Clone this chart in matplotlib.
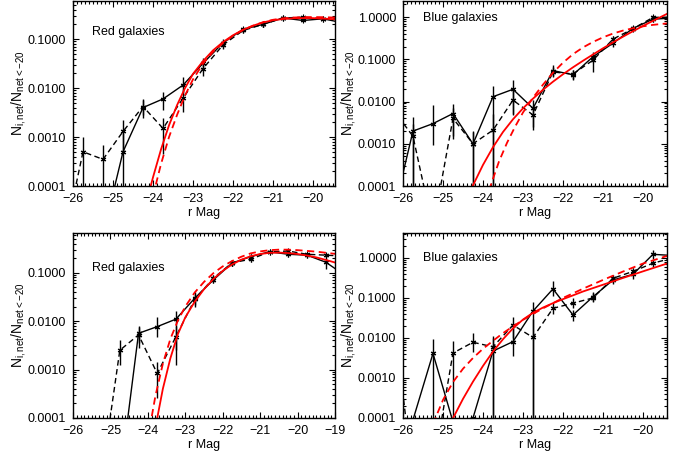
import numpy as np
import matplotlib
matplotlib.use("Agg")
import matplotlib.pyplot as plt
from matplotlib.ticker import FixedLocator, MultipleLocator, LogLocator, NullFormatter, FuncFormatter

plt.rcParams['font.family'] = ['Liberation Sans', 'DejaVu Sans']
plt.rcParams['mathtext.default'] = 'regular'
plt.rcParams['font.size'] = 8

nan = np.nan

# magnitude bins (bin centres)
mag_bins = [-26.25, -25.75, -25.25, -24.75, -24.25, -23.75, -23.25, -22.75,
            -22.25, -21.75, -21.25, -20.75, -20.25, -19.75, -19.25, -18.75]

# --- top left: red galaxies ---
tl_solid = [1e-6, 1e-6, 1e-5, 5e-4, 0.0040, 0.0060, 0.0115, 0.032, 0.084, 0.158, 0.20, 0.27, 0.24, 0.26, 0.215, nan]
tl_solid_lo = [nan, nan, nan, 1e-6, 0.0025, 0.0035, 0.0078, 0.024, 0.07, 0.14, 0.18, 0.25, 0.22, 0.24, nan, nan]
tl_solid_hi = [nan, nan, nan, 0.0012, 0.0057, 0.0084, 0.0166, 0.042, 0.10, 0.18, 0.22, 0.29, 0.26, 0.28, nan, nan]
tl_dash = [6e-6, 5e-4, 3.5e-4, 0.0013, 0.0042, 0.0015, 0.0062, 0.025, 0.076, 0.15, 0.20, 0.27, 0.28, 0.26, 0.26, nan]
tl_dash_lo = [nan, 1e-6, 1e-6, 5e-4, 0.0028, 4.6e-4, 0.0033, 0.018, 0.063, 0.135, 0.18, 0.25, 0.26, 0.24, nan, nan]
tl_dash_hi = [nan, 0.001, 7e-4, 0.0022, 0.006, 0.0024, 0.0095, 0.034, 0.09, 0.17, 0.22, 0.29, 0.30, 0.28, nan, nan]
tl_fit_m = [-24.1, -24.0, -23.8, -23.6, -23.4, -23.2, -23.0, -22.75, -22.5, -22.25, -22.0,
            -21.75, -21.5, -21.25, -21.0, -20.75, -20.5, -20.25, -20.0, -19.75, -19.45]
tl_fit_solid = [7.4e-5, 1.51e-4, 5.6e-4, 1.74e-3, 4.47e-3, 0.010, 0.0195, 0.0355, 0.0589, 0.0871, 0.120,
                0.155, 0.188, 0.219, 0.243, 0.257, 0.266, 0.269, 0.268, 0.263, 0.254]
tl_fitd_m = [-24.0, -23.8, -23.6, -23.4, -23.2, -23.0, -22.75, -22.5, -22.25, -22.0,
             -21.75, -21.5, -21.25, -21.0, -20.75, -20.5, -20.25, -20.0, -19.75, -19.45]
tl_fit_dash = [6.3e-5, 2.82e-4, 1.0e-3, 2.82e-3, 7.08e-3, 0.0151, 0.0316, 0.055, 0.0832, 0.1175,
               0.153, 0.188, 0.221, 0.248, 0.266, 0.275, 0.281, 0.282, 0.280, 0.275]

# --- top right: blue galaxies ---
tr_solid = [2e-5, 0.002, 0.003, 0.0052, 0.00099, 0.013, 0.0195, 0.0069, 0.054, 0.043, 0.115, 0.24, 0.54, 0.89, 0.95, nan]
tr_solid_lo = [nan, 1e-6, 9.3e-4, 0.0013, 1e-6, 1e-6, 0.0048, 0.0021, 0.04, 0.032, 0.085, 0.2, 0.47, 0.78, nan, nan]
tr_solid_hi = [nan, 0.0042, 0.0083, 0.0087, 0.0019, 0.023, 0.032, 0.011, 0.072, 0.056, 0.15, 0.29, 0.62, 1.0, nan, nan]
tr_dash = [0.0065, 0.0015, 1e-5, 0.004, 0.001, 0.0021, 0.0108, 0.0048, 0.05, 0.045, 0.095, 0.30, 0.53, 0.98, 1.0, nan]
tr_dash_lo = [nan, 1e-6, nan, 0.0015, 1e-6, 1e-6, 0.005, 0.0025, 0.038, 0.035, 0.051, 0.25, 0.47, 0.85, nan, nan]
tr_dash_hi = [nan, 0.003, nan, 0.007, 0.002, 0.005, 0.02, 0.008, 0.065, 0.055, 0.126, 0.36, 0.6, 1.1, nan, nan]
tr_fit_m = [-24.3, -24.0, -23.75, -23.5, -23.25, -23.0, -22.75, -22.5, -22.25, -22.0,
            -21.75, -21.5, -21.25, -21.0, -20.75, -20.5, -20.25, -20.0, -19.75, -19.4]
tr_fit_solid = [8.3e-5, 3.16e-4, 8.3e-4, 1.9e-3, 3.8e-3, 6.9e-3, 0.0117, 0.019, 0.0295, 0.0442,
                0.0646, 0.0923, 0.130, 0.182, 0.251, 0.343, 0.462, 0.617, 0.813, 1.19]
tr_fitd_m = [-23.85, -23.6, -23.4, -23.2, -23.0, -22.75, -22.5, -22.25, -22.0, -21.75,
             -21.5, -21.25, -21.0, -20.75, -20.5, -20.25, -20.0, -19.75, -19.4]
tr_fit_dash = [7.9e-5, 3.8e-4, 1.05e-3, 2.51e-3, 5.5e-3, 0.0123, 0.0251, 0.0479, 0.0832, 0.132,
               0.191, 0.257, 0.331, 0.407, 0.479, 0.543, 0.603, 0.653, 0.708]

# --- bottom left: red galaxies ---
bl_solid = [nan, nan, 1e-6, 5e-6, 0.0056, 0.0077, 0.011, 0.0296, 0.071, 0.158, 0.215, 0.27, 0.24, 0.23, 0.165, 0.09]
bl_solid_lo = [nan, nan, nan, nan, 0.0035, 0.0047, 0.00125, 0.022, 0.06, 0.14, 0.19, 0.25, 0.21, 0.2, 0.12, nan]
bl_solid_hi = [nan, nan, nan, nan, 0.0078, 0.0123, 0.016, 0.04, 0.085, 0.18, 0.24, 0.29, 0.27, 0.26, 0.22, nan]
bl_dash = [nan, nan, 5e-6, 0.0025, 0.0052, 0.00083, 0.0048, 0.028, 0.077, 0.16, 0.19, 0.27, 0.28, 0.24, 0.23, 0.22]
bl_dash_lo = [nan, nan, nan, 0.00126, 0.0028, 0.00026, 0.0025, 0.02, 0.065, 0.14, 0.17, 0.25, 0.26, 0.22, 0.21, nan]
bl_dash_hi = [nan, nan, nan, 0.0041, 0.0075, 0.00145, 0.008, 0.037, 0.09, 0.18, 0.21, 0.29, 0.30, 0.26, 0.25, nan]
bl_fit_m = [-23.8, -23.6, -23.4, -23.2, -23.0, -22.75, -22.5, -22.25, -22.0, -21.75, -21.5,
            -21.25, -21.0, -20.75, -20.5, -20.25, -20.0, -19.75, -19.5, -19.25, -19.0]
bl_fit_solid = [6.3e-5, 4.0e-4, 1.7e-3, 5.37e-3, 0.012, 0.0251, 0.0457, 0.0741, 0.1096, 0.148, 0.186,
                0.219, 0.243, 0.257, 0.26, 0.254, 0.243, 0.226, 0.207, 0.184, 0.162]
bl_fitd_m = [-23.95, -23.8, -23.6, -23.4, -23.2, -23.0, -22.75, -22.5, -22.25, -22.0,
             -21.75, -21.5, -21.25, -21.0, -20.75, -20.5, -20.25, -20.0, -19.5, -19.0]
bl_fit_dash = [6.3e-5, 2.82e-4, 1.32e-3, 4.27e-3, 0.0102, 0.02, 0.0389, 0.0646, 0.0977, 0.135,
               0.174, 0.214, 0.251, 0.275, 0.292, 0.299, 0.299, 0.292, 0.272, 0.245]

# --- bottom right: blue galaxies ---
br_solid = [5e-5, 9e-5, 0.0041, 8e-5, 1e-4, 0.0047, 0.0081, 0.047, 0.168, 0.0376, 0.107, 0.28, 0.39, 1.23, 1.15, nan]
br_solid_lo = [nan, nan, 1e-6, nan, nan, 1e-6, 0.0035, 1e-6, 0.11, 0.027, 0.085, 0.22, 0.3, 0.95, nan, nan]
br_solid_hi = [nan, nan, 0.0095, nan, nan, 0.011, 0.018, 0.08, 0.26, 0.05, 0.14, 0.33, 0.5, 1.6, nan, nan]
br_dash = [0.05, 3e-6, 5e-6, 0.0042, 0.0078, 0.006, 0.021, 0.0103, 0.055, 0.074, 0.10, 0.31, 0.46, 0.74, 1.0, nan]
br_dash_lo = [nan, nan, nan, 1e-6, 0.0045, 1e-6, 0.01, 1e-6, 0.04, 0.055, 0.08, 0.25, 0.36, 0.6, nan, nan]
br_dash_hi = [nan, nan, nan, 0.0085, 0.013, 0.01, 0.033, 0.03, 0.075, 0.1, 0.13, 0.37, 0.55, 0.9, nan, nan]
br_fit_m = [-24.8, -24.5, -24.25, -24.0, -23.75, -23.5, -23.25, -23.0, -22.75, -22.5,
            -22.25, -22.0, -21.75, -21.5, -21.0, -20.5, -20.0, -19.4]
br_fit_solid = [7.9e-5, 3.0e-4, 8.1e-4, 2.0e-3, 4.57e-3, 9.3e-3, 0.0174, 0.0288, 0.0427, 0.0575,
                0.0741, 0.0933, 0.116, 0.145, 0.214, 0.316, 0.462, 0.724]
br_fitd_m = [-25.25, -25.0, -24.75, -24.5, -24.25, -24.0, -23.75, -23.5, -23.25, -23.0,
             -22.75, -22.5, -22.25, -22.0, -21.5, -21.0, -20.5, -20.0, -19.4]
br_fit_dash = [7.1e-5, 2.82e-4, 7.9e-4, 1.7e-3, 3.16e-3, 5.37e-3, 8.5e-3, 0.0132, 0.0195, 0.0282,
               0.0398, 0.055, 0.0741, 0.1, 0.17, 0.282, 0.457, 0.724, 1.12]

ytick_vals = [0.0001, 0.001, 0.01, 0.1, 1.0]

DASH = (0, (4, 2.5))


def draw_panel(ax, solid, s_lo, s_hi, dash, d_lo, d_hi, fit_m, fit_s, fitd_m, fit_d,
               xlim, ylim, label, label_xy):
    m = np.array(mag_bins)
    ax.vlines(m, s_lo, s_hi, color='k', lw=1.0)
    ax.vlines(m, d_lo, d_hi, color='k', lw=1.0)
    ax.plot(m, solid, '-', color='k', lw=1.0, marker=(6, 2, 0), ms=4, mew=0.8)
    ax.plot(m, dash, color='k', lw=1.0, ls=DASH, marker=(6, 2, 0), ms=4, mew=0.8)
    ax.plot(fit_m, fit_s, '-', color='#ff0000', lw=1.3)
    ax.plot(fitd_m, fit_d, color='#ff0000', lw=1.3, ls=DASH)

    ax.set_yscale('log')
    ax.set_xlim(*xlim)
    ax.set_ylim(*ylim)
    ax.yaxis.set_major_locator(FixedLocator(ytick_vals))
    ax.yaxis.set_major_formatter(FuncFormatter(lambda v, p: '%.4f' % v))
    ax.yaxis.set_minor_locator(LogLocator(base=10, subs=np.arange(2, 10)))
    ax.yaxis.set_minor_formatter(NullFormatter())
    ax.xaxis.set_major_locator(MultipleLocator(1))
    ax.xaxis.set_minor_locator(MultipleLocator(0.1))
    ax.tick_params(which='both', direction='in', top=True, right=True, width=0.8)
    ax.tick_params(which='major', length=4.5, pad=5, labelsize=9)
    ax.tick_params(which='minor', length=2)
    for sp in ax.spines.values():
        sp.set_linewidth(1.0)

    ax.set_xlabel('r Mag', fontsize=9)
    ax.xaxis.set_label_coords(0.5, -0.115)
    ax.set_ylabel(r'N$_{i,net}$/N$_{net<-20}$', fontsize=10)
    ax.yaxis.set_label_coords(-0.172, 0.5)
    ax.text(label_xy[0], label_xy[1], label, transform=ax.transAxes, fontsize=9,
            va='center', ha='left')


fig = plt.figure(figsize=(6.85, 4.54), dpi=100)
ax_tl = fig.add_axes([0.1066, 0.5903, 0.3825, 0.4075])
ax_tr = fig.add_axes([0.5883, 0.5903, 0.3854, 0.4075])
ax_bl = fig.add_axes([0.1066, 0.0793, 0.3825, 0.4075])
ax_br = fig.add_axes([0.5883, 0.0793, 0.3854, 0.4075])

draw_panel(ax_tl, tl_solid, tl_solid_lo, tl_solid_hi, tl_dash, tl_dash_lo, tl_dash_hi,
           tl_fit_m, tl_fit_solid, tl_fitd_m, tl_fit_dash,
           (-26, -19.45), (1e-4, 0.6), 'Red galaxies', (0.073, 0.83))
draw_panel(ax_tr, tr_solid, tr_solid_lo, tr_solid_hi, tr_dash, tr_dash_lo, tr_dash_hi,
           tr_fit_m, tr_fit_solid, tr_fitd_m, tr_fit_dash,
           (-26, -19.4), (1e-4, 2.4), 'Blue galaxies', (0.076, 0.91))
draw_panel(ax_bl, bl_solid, bl_solid_lo, bl_solid_hi, bl_dash, bl_dash_lo, bl_dash_hi,
           bl_fit_m, bl_fit_solid, bl_fitd_m, bl_fit_dash,
           (-26, -19), (1e-4, 0.66), 'Red galaxies', (0.073, 0.81))
draw_panel(ax_br, br_solid, br_solid_lo, br_solid_hi, br_dash, br_dash_lo, br_dash_hi,
           br_fit_m, br_fit_solid, br_fitd_m, br_fit_dash,
           (-26, -19.4), (1e-4, 4.2), 'Blue galaxies', (0.076, 0.865))

fig.savefig('out.png', dpi=100)
